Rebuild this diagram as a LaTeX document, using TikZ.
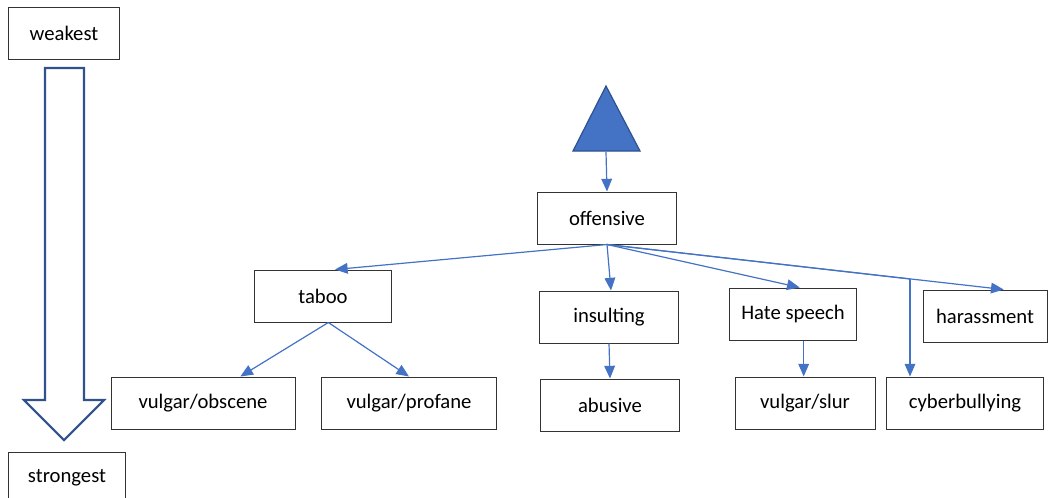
\documentclass[tikz,border=0pt]{standalone}
\usepackage{fontspec}
\setmainfont{Carlito}
\usepackage{xcolor}
\usepackage{tikz}
\usetikzlibrary{calc, arrows.meta, positioning}
\definecolor{linkblue}{HTML}{4472C4}
\definecolor{edgeblue}{HTML}{2F528F}
\tikzset{
    boxnode/.style = {draw=black!80, rectangle, fill=white, line width=0.75pt, inner sep=0pt,
      minimum width=#1, minimum height=39pt, font=\fontsize{15.5pt}{18pt}\selectfont},
    boxnode/.default = 103pt,
    connect/.style = {linkblue, line width=0.9pt, -{Triangle[length=9.5pt, width=8pt]}},
    plainlink/.style = {linkblue, line width=0.9pt}
}
\begin{document}
\begin{tikzpicture}[x=0.75pt, y=-0.75pt]
    \useasboundingbox (0,0) rectangle (1052,497);
    % scale ends
    \node [boxnode=83pt, name=weakest] at (64,33) {weakest};
    \node [boxnode=88pt, name=strongest] at (67,478) {strongest};
    \draw [edgeblue, line width=1.6pt, fill=white, line join=miter]
      (45,68) -- (84,68) -- (84,400) -- (104,400) -- (64,440) -- (24,400) -- (45,400) -- cycle;

    % top of the tree
    \draw [edgeblue, line width=0.9pt, fill=linkblue] (606,86) -- (640,151) -- (573,151) -- cycle;
    \coordinate (apex) at (606,152);
    \node [boxnode=104pt, name=offensive] at (607,218) {offensive};
    \draw (apex) edge[connect] (offensive.north);

    % first level
    \node [boxnode=103pt, name=taboo] at (323,296) {taboo};
    \node [boxnode=104pt, name=insulting] at (609,317) {insulting};
    \node [boxnode=95pt, name=hatespeech] at (793,314) {Hate speech};
    \node [boxnode=93pt, name=harassment] at (985,316) {harassment};
    \coordinate (turn) at (910,279);

    \draw (offensive.south) edge[connect] ([xshift=9pt]taboo.north);
    \draw (offensive.south) edge[connect] ([xshift=1.5pt]insulting.north);
    \draw (offensive.south) edge[connect] ([xshift=5pt]hatespeech.north);
    \draw (offensive.south) edge[connect] ([xshift=14pt]harassment.north);
    \draw [plainlink] (offensive.south) -- (turn);

    % second level
    \node [boxnode=138pt, name=obscene] at (203,403) {vulgar/obscene};
    \node [boxnode=131pt, name=profane] at (409,403) {vulgar/profane};
    \node [boxnode=104pt, name=abusive] at (610,405) {abusive};
    \node [boxnode=105pt, name=slur] at (805,403) {vulgar/slur};
    \node [boxnode=118pt, name=cyberbullying] at (965,403) {cyberbullying};

    \draw ([xshift=4pt]taboo.south) edge[connect] ([xshift=28pt]obscene.north);
    \draw ([xshift=4pt]taboo.south) edge[connect] (profane.north);
    \draw (insulting.south) edge[connect] (abusive.north);
    \draw ([xshift=8pt]hatespeech.south) edge[connect] ([xshift=-1pt]slur.north);
    \draw (turn) edge[connect] (turn |- cyberbullying.north);
\end{tikzpicture}
\end{document}
